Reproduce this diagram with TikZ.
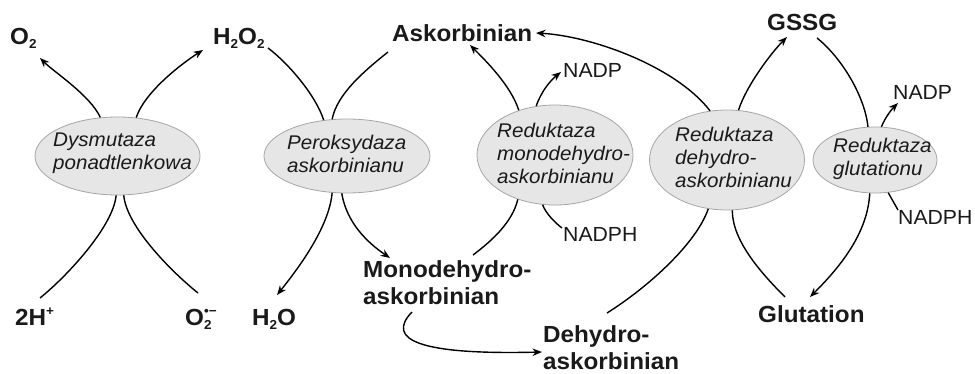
\documentclass[tikz,border=0pt]{standalone}
\usepackage{fontspec}
\setmainfont[FakeStretch=1.04]{Liberation Sans}
\usetikzlibrary{arrows.meta,calc,shapes.geometric}

\definecolor{ink}{HTML}{1A1A1A}
\definecolor{ellfill}{HTML}{E6E6E6}
\definecolor{ellgray}{HTML}{A6A6A6}

% small lowered / raised indices for chemical formulas
\newcommand\dn[1]{\raisebox{-4pt}{\fontsize{13}{13}\selectfont #1}}
\newcommand\up[1]{\raisebox{9.5pt}{\fontsize{13}{13}\selectfont #1}}

\begin{document}
\begin{tikzpicture}[x=1pt,y=-1pt,
  lbl/.style={anchor=base west,inner sep=0pt,text=ink,font=\fontsize{23.3}{28}\selectfont\bfseries},
  cof/.style={anchor=base west,inner sep=0pt,text=ink,font=\fontsize{20.4}{23}\selectfont},
  enz/.style={ellipse,draw=ellgray,fill=ellfill,line width=0.8pt,inner sep=0pt},
  enzt/.style={anchor=base west,inner sep=0pt,text=ink,font=\fontsize{19.8}{23}\selectfont\itshape},
  link/.style={line width=1.4pt,draw=black},
  arr/.style={link,-{Stealth[length=9.5pt,width=7.5pt]}}]

\fill[white] (0,0) rectangle (975,374);
\useasboundingbox (0,0) rectangle (975,374);

% enzymes
\node[enz,minimum width=165pt,minimum height=78pt]  (dys) at (117.5,156) {};
\node[enz,minimum width=166pt,minimum height=74pt]  (per) at (347,156) {};
\node[enz,minimum width=156pt,minimum height=100pt] (mon) at (555,155) {};
\node[enz,minimum width=155pt,minimum height=100pt] (deh) at (727,160) {};
\node[enz,minimum width=124pt,minimum height=66pt]  (glr) at (875,160) {};

\node[enzt] (dyst) at (53,147)  {\begin{tabular}[t]{@{}l@{}}Dysmutaza\\ponadtlenkowa\end{tabular}};
\node[enzt] (pert) at (287,150) {\begin{tabular}[t]{@{}l@{}}Peroksydaza\\askorbinianu\end{tabular}};
\node[enzt] (mont) at (497,138) {\begin{tabular}[t]{@{}l@{}}Reduktaza\\monodehydro-\\askorbinianu\end{tabular}};
\node[enzt] (deht) at (675,142) {\begin{tabular}[t]{@{}l@{}}Reduktaza\\dehydro-\\askorbinianu\end{tabular}};
\node[enzt] (glrt) at (833,153) {\begin{tabular}[t]{@{}l@{}}Reduktaza\\glutationu\end{tabular}};

% metabolites
\node[lbl] (o2)   at (10,45)   {O\dn{2}};
\node[lbl] (h2o2) at (213,45)  {H\dn{2}O\dn{2}};
\node[lbl] (asc)  at (392,42)  {Askorbinian};
\node[lbl] (gssg) at (767,31)  {GSSG};
\node[lbl] (mono) at (363,277) {\begin{tabular}[t]{@{}l@{}}Monodehydro-\\askorbinian\end{tabular}};
\node[lbl,font=\fontsize{23.3}{27}\selectfont\bfseries] (dha) at (543,342)
  {\begin{tabular}[t]{@{}l@{}}Dehydro-\\askorbinian\end{tabular}};
\node[lbl] (glu)  at (758,323) {Glutation};
\node[lbl] (h2)   at (15,325)  {2H\up{+}};
\node[lbl] (o2r)  at (185,325) {O\rlap{\dn{2}}\up{•−}};
\node[lbl] (h2o)  at (252,325) {H\dn{2}O};

% cofactors
\node[cof] (nadp1)  at (563,78)  {NADP};
\node[cof] (nadp2)  at (893,100) {NADP};
\node[cof] (nadph1) at (563,242) {NADPH};
\node[cof] (nadph2) at (898,225) {NADPH};

% connector ends next to the labels
\coordinate (o2e)    at ([shift={(30,13)}]o2.base west);
\coordinate (h2o2e)  at ([shift={(-10,5)}]h2o2.base west);
\coordinate (h2o2s)  at ([shift={(55,3)}]h2o2.base west);
\coordinate (ascs)   at ([shift={(-4,10)}]asc.base west);
\coordinate (asce1)  at ([shift={(78,3)}]asc.base west);
\coordinate (asce2)  at ([shift={(144,-9)}]asc.base west);
\coordinate (nadp1e) at ([shift={(-2,-6)}]nadp1.base west);
\coordinate (nadph1s) at ([shift={(-1,-14)}]nadph1.base west);
\coordinate (monoe)  at ([shift={(27,-19)}]mono.base west);
\coordinate (monos)  at ([shift={(110,-22)}]mono.base west);
\coordinate (monob)  at ([shift={(49,35)}]mono.base west);
\coordinate (dhae)   at ([shift={(-1,10)}]dha.base west);
\coordinate (dhas)   at ([shift={(64,-29)}]dha.base west);
\coordinate (gssge)  at ([shift={(20,6)}]gssg.base west);
\coordinate (gssgs)  at ([shift={(50,7)}]gssg.base west);
\coordinate (nadp2e) at ([shift={(5,3)}]nadp2.base west);
\coordinate (nadph2s) at ([shift={(0,-15)}]nadph2.base west);
\coordinate (glue)   at ([shift={(52,-26)}]glu.base west);
\coordinate (glus)   at ([shift={(27,-26)}]glu.base west);
\coordinate (h2s)    at ([shift={(25,-27)}]h2.base west);
\coordinate (o2rs)   at ([shift={(13,-32)}]o2r.base west);
\coordinate (h2oe)   at ([shift={(25,-30)}]h2o.base west);

% superoxide dismutase
\draw[arr]  (dys.114) .. controls ($(dys.114)+(-10,-22)$) and ($(o2e)+(14,14)$) .. (o2e);
\draw[arr]  (dys.64)  .. controls ($(dys.64)+(8,-25)$) and ($(h2o2e)+(-22,14)$) .. (h2o2e);
\draw[link] (h2s)  .. controls ($(h2s)+(25,-20)$) and ($(dys.268)+(-3,32)$) .. (dys.268);
\draw[link] (o2rs) .. controls ($(o2rs)+(-25,-20)$) and ($(dys.279)+(3,32)$) .. (dys.279);

% ascorbate peroxidase
\draw[link] (h2o2s) .. controls ($(h2o2s)+(20,15)$) and ($(per.123)+(-8,-25)$) .. (per.123);
\draw[link] (ascs)  .. controls ($(ascs)+(-25,20)$) and ($(per.112)+(5,-25)$) .. (per.112);
\draw[arr]  (per.248) .. controls ($(per.248)+(-3,35)$) and ($(h2oe)+(20,-25)$) .. (h2oe);
\draw[arr]  (per.262) .. controls ($(per.262)+(5,30)$) and ($(monoe)+(-22,-15)$) .. (monoe);

% monodehydroascorbate reductase
\draw[link] (monos) .. controls ($(monos)+(20,-15)$) and ($(mon.230)+(-5,22)$) .. (mon.230);
\draw[arr]  (mon.129) .. controls ($(mon.129)+(-8,-25)$) and ($(asce1)+(15,15)$) .. (asce1);
\draw[arr]  (mon.111) .. controls ($(mon.111)+(5,-15)$) and ($(nadp1e)+(-10,8)$) .. (nadp1e);
\draw[link] (nadph1s) .. controls ($(nadph1s)+(-8,-6)$) and ($(mon.256)+(3,8)$) .. (mon.256);

% dehydroascorbate reductase
\draw[arr]  (deh.109) .. controls ($(deh.109)+(-35,-45)$) and ($(asce2)+(55,3)$) .. (asce2);
\draw[link] (dhas) .. controls ($(dhas)+(40,-25)$) and ($(deh.249)+(-12,35)$) .. (deh.249);
\draw[arr]  (deh.77) .. controls ($(deh.77)+(8,-25)$) and ($(gssge)+(-15,15)$) .. (gssge);
\draw[link] (glus) .. controls ($(glus)+(-25,-25)$) and ($(deh.276)+(0,30)$) .. (deh.276);

% glutathione reductase
\draw[link] (gssgs) .. controls ($(gssgs)+(25,20)$) and ($(glr.102)+(-3,-30)$) .. (glr.102);
\draw[arr]  (glr.79) .. controls ($(glr.79)+(4,-10)$) and ($(nadp2e)+(-6,6)$) .. (nadp2e);
\draw[link] (nadph2s) -- (glr.292);
\draw[arr]  (glr.261) .. controls ($(glr.261)+(-2,40)$) and ($(glue)+(30,-30)$) .. (glue);

% monodehydroascorbate to dehydroascorbate
\draw[arr]  (monob) .. controls ($(monob)+(-27,28)$) and ($(dhae)+(-122,3)$) .. (dhae);

\end{tikzpicture}
\end{document}
